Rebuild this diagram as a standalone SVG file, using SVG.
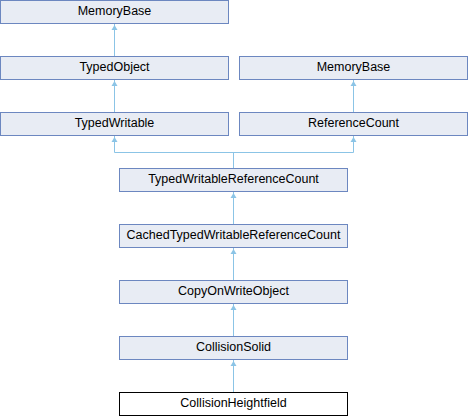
<svg xmlns="http://www.w3.org/2000/svg" width="468" height="416" viewBox="0 0 468 416">
<style>
.n rect{fill:#E8ECF4;stroke:#6C87C0;stroke-width:1}
.n.cur rect{fill:#FFFFFF;stroke:#000000}
.n text{font-family:"Liberation Sans",Arial,sans-serif;font-size:12.5px;fill:#000000;text-anchor:middle}
.e{fill:none;stroke:#8BC4E6;stroke-width:1}
.h{fill:#8BC4E6;stroke:none}
</style>
<rect width="468" height="416" fill="#FFFFFF"/>
<g id="edges">
<path class="e" d="M114.5,24 V56"/>
<polygon class="h" points="114.5,25 111.5,30 117.5,30"/>
<path class="e" d="M114.5,80 V112"/>
<polygon class="h" points="114.5,81 111.5,86 117.5,86"/>
<path class="e" d="M353.5,80 V112"/>
<polygon class="h" points="353.5,81 350.5,86 356.5,86"/>
<path class="e" d="M114.5,136 V152.5 H353.5 V136 M233.5,152.5 V168"/>
<polygon class="h" points="114.5,137 111.5,142 117.5,142"/>
<polygon class="h" points="353.5,137 350.5,142 356.5,142"/>
<path class="e" d="M233.5,192 V224"/>
<polygon class="h" points="233.5,193 230.5,198 236.5,198"/>
<path class="e" d="M233.5,248 V280"/>
<polygon class="h" points="233.5,249 230.5,254 236.5,254"/>
<path class="e" d="M233.5,304 V336"/>
<polygon class="h" points="233.5,305 230.5,310 236.5,310"/>
<path class="e" d="M233.5,360 V392"/>
<polygon class="h" points="233.5,361 230.5,366 236.5,366"/>
</g>
<g id="MemoryBase1" class="n"><rect x="0.5" y="0.5" width="228" height="23"/><text x="114.5" y="14.5">MemoryBase</text></g>
<g id="TypedObject" class="n"><rect x="0.5" y="56.5" width="228" height="23"/><text x="114.5" y="70.5">TypedObject</text></g>
<g id="MemoryBase2" class="n"><rect x="239.5" y="56.5" width="228" height="23"/><text x="353.5" y="70.5">MemoryBase</text></g>
<g id="TypedWritable" class="n"><rect x="0.5" y="112.5" width="228" height="23"/><text x="114.5" y="126.5">TypedWritable</text></g>
<g id="ReferenceCount" class="n"><rect x="239.5" y="112.5" width="228" height="23"/><text x="353.5" y="126.5">ReferenceCount</text></g>
<g id="TypedWritableReferenceCount" class="n"><rect x="119.5" y="168.5" width="228" height="23"/><text x="233.5" y="182.5">TypedWritableReferenceCount</text></g>
<g id="CachedTypedWritableReferenceCount" class="n"><rect x="119.5" y="224.5" width="228" height="23"/><text x="233.5" y="238.5">CachedTypedWritableReferenceCount</text></g>
<g id="CopyOnWriteObject" class="n"><rect x="119.5" y="280.5" width="228" height="23"/><text x="233.5" y="294.5">CopyOnWriteObject</text></g>
<g id="CollisionSolid" class="n"><rect x="119.5" y="336.5" width="228" height="23"/><text x="233.5" y="350.5">CollisionSolid</text></g>
<g id="CollisionHeightfield" class="n cur"><rect x="119.5" y="392.5" width="228" height="23"/><text x="233.5" y="406.5">CollisionHeightfield</text></g>
</svg>
